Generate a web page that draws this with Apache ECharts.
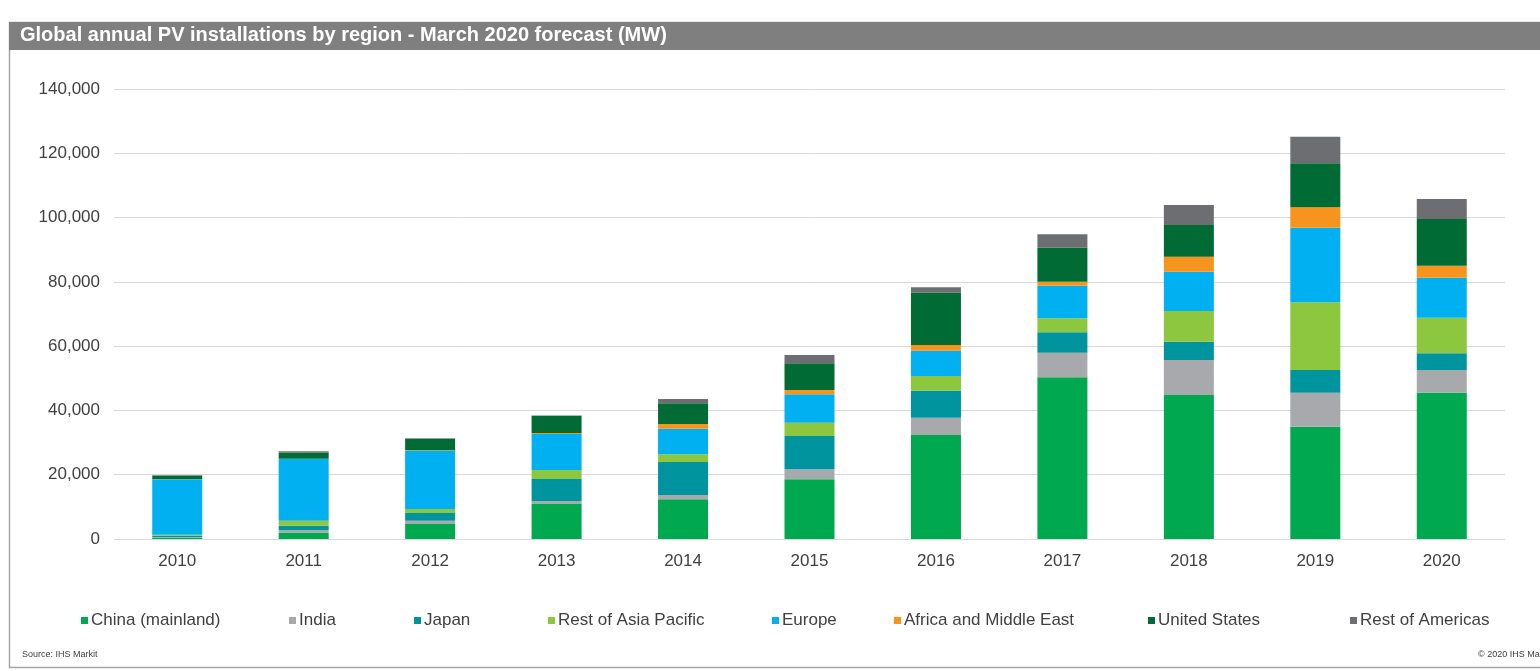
<!DOCTYPE html>
<html>
<head>
<meta charset="utf-8">
<script src="https://cdn.jsdelivr.net/npm/echarts@6/dist/echarts.min.js"></script>
<style>
  html, body { margin: 0; padding: 0; background: #ffffff; }
  #chart { width: 1540px; height: 671px; }
</style>
</head>
<body>
<div id="chart"></div>
<script>
// Annual PV installations (MW) by year and region
const years = ['2010', '2011', '2012', '2013', '2014', '2015', '2016', '2017', '2018', '2019', '2020'];

const china     = [500, 2050, 4670, 10900, 12350, 18570, 32350, 50300, 44800, 34940, 45510];
const india     = [100, 750, 1030, 930, 1340, 3110, 5380, 7650, 10890, 10580, 7060];
const japan     = [400, 1340, 2400, 6840, 10270, 10360, 8400, 6350, 5700, 7060, 5200];
const restAsia  = [300, 1560, 1240, 2800, 2400, 4140, 4570, 4350, 9550, 21060, 11080];
const europe    = [17200, 19190, 18140, 11200, 7960, 8840, 7870, 10140, 12230, 23210, 12440];
const africaME  = [100, 100, 100, 300, 1460, 1340, 1770, 1250, 4670, 6350, 3730];
const usa       = [1150, 1900, 3640, 5380, 6440, 8300, 16270, 10580, 9860, 13690, 14530];
const restAmer  = [100, 400, 100, 100, 1340, 2580, 1680, 4170, 6220, 8280, 6220];

const regionNames = ['China (mainland)', 'India', 'Japan', 'Rest of Asia Pacific', 'Europe',
                     'Africa and Middle East', 'United States', 'Rest of Americas'];
const regionData = [china, india, japan, restAsia, europe, africaME, usa, restAmer];
const regionColors = ['#00a94f', '#a7a9ac', '#00959e', '#8dc63f', '#00b0f0', '#f7941d', '#006b35', '#6d6e71'];

const yTicks = [0, 20000, 40000, 60000, 80000, 100000, 120000, 140000];

const FONT = '"Liberation Sans", Arial, sans-serif';
const legendLefts = [76, 284, 409, 543, 767, 889, 1143, 1345];

const chart = echarts.init(document.getElementById('chart'), null, { renderer: 'canvas' });

const option = {
  animation: false,
  backgroundColor: '#ffffff',
  textStyle: { fontFamily: FONT },
  graphic: [
    { type: 'rect', shape: { x: 9.5, y: 22.5, width: 1540, height: 645 },
      style: { fill: 'none', stroke: '#a6a6a6', lineWidth: 1.5 }, silent: true },
    { type: 'rect', shape: { x: 9, y: 22, width: 1531, height: 28 },
      style: { fill: '#7f7f7f' }, silent: true },
    { type: 'text', left: 20, top: 25,
      style: { text: 'Global annual PV installations by region - March 2020 forecast (MW)',
               fill: '#ffffff', font: 'bold 20px ' + FONT } },
    { type: 'text', left: 22, top: 650,
      style: { text: 'Source: IHS Markit', fill: '#404040', font: '9px ' + FONT } },
    { type: 'text', left: 1478, top: 650,
      style: { text: '\u00a9 2020 IHS Markit', fill: '#404040', font: '9px ' + FONT } }
  ],
  legend: regionNames.map((name, i) => ({
    data: [name],
    left: legendLefts[i],
    top: 607,
    icon: 'rect',
    itemWidth: 7,
    itemHeight: 7,
    itemGap: 0,
    textStyle: { fontFamily: FONT, fontSize: 17, color: '#404040', padding: [0, 0, 0, -2] },
    selectedMode: false
  })),
  grid: { left: 114, right: 35, top: 89, bottom: 132, containLabel: false },
  xAxis: {
    type: 'category',
    data: years,
    axisLine: { show: false },
    axisTick: { show: false },
    axisLabel: { color: '#404040', fontSize: 17, fontFamily: FONT, margin: 14 }
  },
  yAxis: {
    type: 'value',
    min: yTicks[0],
    max: yTicks[yTicks.length - 1],
    interval: yTicks[1] - yTicks[0],
    axisLine: { show: false },
    axisTick: { show: false },
    splitLine: { lineStyle: { color: '#d9d9d9', width: 1 } },
    axisLabel: {
      color: '#404040', fontSize: 17, fontFamily: FONT, margin: 14,
      formatter: v => v.toLocaleString('en-US')
    }
  },
  series: regionNames.map((name, i) => ({
    name: name,
    type: 'bar',
    stack: 'total',
    barWidth: 50,
    itemStyle: { color: regionColors[i] },
    data: regionData[i]
  }))
};

chart.setOption(option);
</script>
</body>
</html>
